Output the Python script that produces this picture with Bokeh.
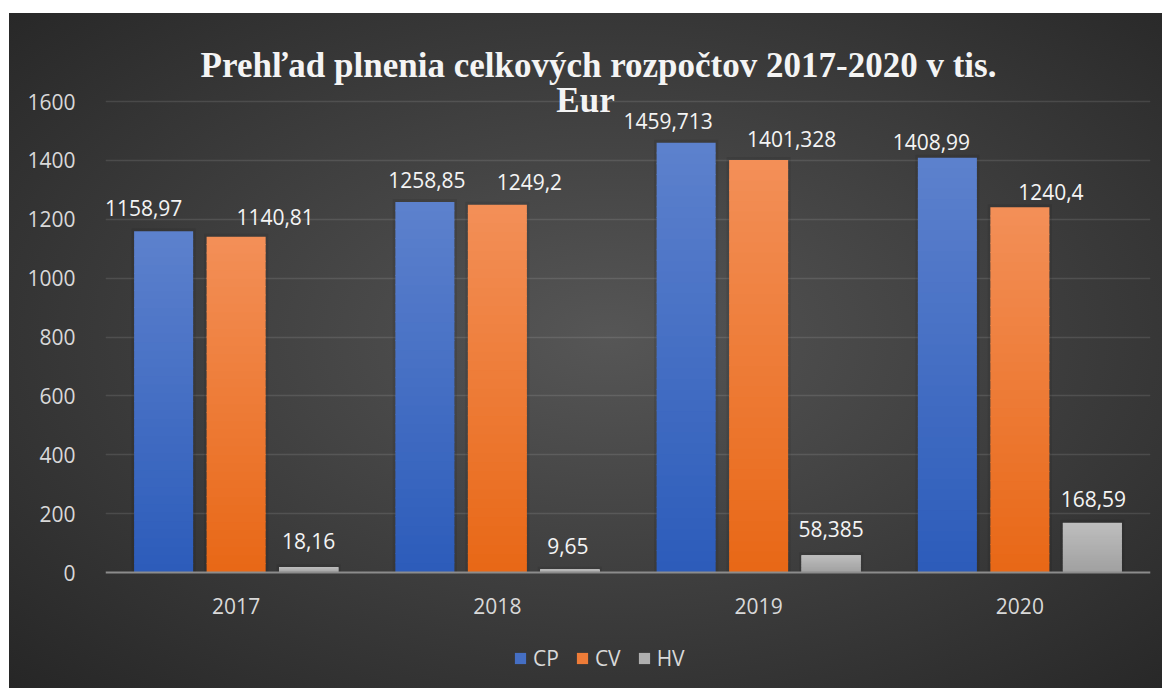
from bokeh.plotting import figure
from bokeh.models import (ColumnDataSource, FactorRange, Range1d, FixedTicker,
                          Label, Legend, LegendItem)
from bokeh.transform import dodge
from bokeh.core.properties import value
from bokeh.embed import file_html
from bokeh.resources import INLINE

# ---------------- data ----------------
years = ["2017", "2018", "2019", "2020"]
series_names = ["CP", "CV", "HV"]
cp_values = [1158.97, 1258.85, 1459.713, 1408.99]
cv_values = [1140.81, 1249.2, 1401.328, 1240.4]
hv_values = [18.16, 9.65, 58.385, 168.59]
y_ticks = [0, 200, 400, 600, 800, 1000, 1200, 1400, 1600]
title_line1 = "Prehľad plnenia celkových rozpočtov 2017-2020 v tis."
title_line2 = "Eur"

# ---------------- style ----------------
series_values = [cp_values, cv_values, hv_values]
bottom_colors = [(44, 92, 186), (232, 104, 22), (160, 160, 160)]
top_colors = [(93, 129, 205), (243, 143, 88), (190, 190, 190)]
offsets = [-0.2775, 0.0, 0.2775]
bar_width = 0.226
# manual label nudges (px), as in the original chart
label_dx = [[-20, 2, -18, -16], [39, 32, 33, 31], [0, -2, 0, 1]]
label_dy = [[-23, -22, -22, -16], [-20, -23, -21, -15], [-26, -24, -26, -24]]

N = 40
px_per_unit = 471.0 / 1600.0
fig_x, fig_y = 9, 13
fig_w, fig_h = 1153, 675
mb_left, mb_right, mb_top, mb_bottom = 96, 12, 5, 5
frame_top_page = fig_y + mb_top
frame_bottom_page = fig_y + fig_h - mb_bottom
frame_left_page = fig_x + mb_left
zero_page = 572
y_top = (zero_page - frame_top_page) / px_per_unit
y_bottom = -(frame_bottom_page - zero_page) / px_per_unit

p = figure(x_range=FactorRange(*years), y_range=Range1d(y_bottom, y_top),
           width=fig_w, height=fig_h, output_backend="svg",
           toolbar_location=None,
           min_border_left=mb_left, min_border_right=mb_right,
           min_border_top=mb_top, min_border_bottom=mb_bottom)
p.margin = (fig_y, 0, 0, fig_x)
p.styles = {"background": "radial-gradient(ellipse farthest-corner at 52% 48%, "
                          "#565656 0%, #3e3e3e 50%, #262626 100%)"}
p.background_fill_alpha = 0
p.border_fill_alpha = 0
p.outline_line_color = None

renderers = []
overlap = 1.0 / px_per_unit
for si, vals in enumerate(series_values):
    # soft shadow
    shadow = ColumnDataSource(dict(year=years, top=[v + 3 / px_per_unit for v in vals]))
    p.vbar(x=dodge("year", offsets[si], range=p.x_range), top="top", bottom=0,
           width=bar_width + 0.02, source=shadow, fill_color="black",
           fill_alpha=0.08, line_color=None)
    xs, bots, tops, cols = [], [], [], []
    for yi, v in enumerate(vals):
        for i in range(N):
            t = (i + 0.5) / N
            c = tuple(int(round(b + (tc - b) * t))
                      for b, tc in zip(bottom_colors[si], top_colors[si]))
            xs.append(years[yi])
            bots.append(v * i / N)
            tops.append(min(v, v * (i + 1) / N + overlap))
            cols.append("#%02x%02x%02x" % c)
    src = ColumnDataSource(dict(year=xs, bottom=bots, top=tops, color=cols))
    r = p.vbar(x=dodge("year", offsets[si], range=p.x_range), top="top",
               bottom="bottom", width=bar_width, source=src,
               fill_color="color", line_color=None)
    renderers.append(r)

    lab = ColumnDataSource(dict(
        year=years, y=vals,
        text=[repr(v).replace(".", ",") for v in vals],
        dx=label_dx[si], dy=label_dy[si]))
    p.text(x=dodge("year", offsets[si], range=p.x_range), y="y", text="text",
           x_offset="dx", y_offset="dy", source=lab,
           text_align="center", text_baseline="middle",
           text_font=value("Open Sans"), text_font_size="21px",
           text_color="#f4f4f4")

# axes & grid
p.yaxis.ticker = FixedTicker(ticks=y_ticks)
p.yaxis.axis_line_color = None
p.yaxis.major_tick_line_color = None
p.yaxis.minor_tick_line_color = None
p.yaxis.major_label_standoff = 24
p.yaxis.major_label_text_font = "Open Sans"
p.yaxis.major_label_text_font_size = "21px"
p.yaxis.major_label_text_color = "#d9d9d9"

p.xaxis.fixed_location = 0
p.xaxis.axis_line_color = "#8c8c8c"
p.xaxis.axis_line_width = 2
p.xaxis.major_tick_line_color = None
p.xaxis.minor_tick_line_color = None
p.xaxis.major_label_standoff = 19
p.xaxis.major_label_text_font = "Open Sans"
p.xaxis.major_label_text_font_size = "21px"
p.xaxis.major_label_text_color = "#d9d9d9"

p.xgrid.grid_line_color = None
p.ygrid.ticker = FixedTicker(ticks=y_ticks[1:])
p.ygrid.grid_line_color = "#ffffff"
p.ygrid.grid_line_alpha = 0.11
p.ygrid.grid_line_width = 1.5

# title
for txt, cx, base in ((title_line1, 598, 65), (title_line2, 585, 100)):
    p.add_layout(Label(x=cx - frame_left_page, y=frame_bottom_page - base,
                       x_units="screen", y_units="screen", text=txt,
                       text_align="center", text_baseline="alphabetic",
                       text_font="Liberation Serif", text_font_style="bold",
                       text_font_size="35px", text_color="#f4f4f4"))

# legend (inside the frame, below the axis)
legend = Legend(items=[LegendItem(label=n, renderers=[r], index=N // 2)
                       for n, r in zip(series_names, renderers)],
                orientation="horizontal",
                location=(513 - frame_left_page, frame_bottom_page - 672),
                glyph_width=14, glyph_height=14, label_standoff=6, spacing=16,
                padding=0, margin=0, label_text_font="Open Sans",
                label_text_font_size="21px", label_text_color="#d9d9d9",
                background_fill_alpha=0, border_line_alpha=0)
p.add_layout(legend)

open("out.html", "w").write(file_html(p, INLINE))
